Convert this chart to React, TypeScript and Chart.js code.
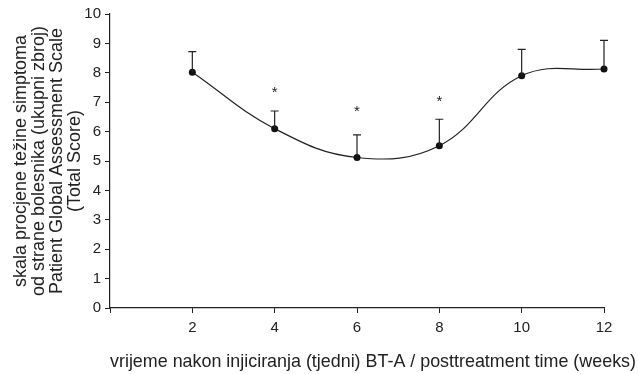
import React, { useEffect, useRef } from 'react';
import { Chart, registerables } from 'chart.js';

Chart.register(...registerables);

const weeks = [2, 4, 6, 8, 10, 12];
const scores = [8.02, 6.1, 5.12, 5.52, 7.9, 8.13];
const upperErrors = [8.72, 6.7, 5.89, 6.42, 8.8, 9.1];
const starWeeks = [4, 6, 8];
const starLevels = [7.44, 6.81, 7.15];
const xTickValues = [0, 2, 4, 6, 8, 10, 12];
const yTickValues = [0, 1, 2, 3, 4, 5, 6, 7, 8, 9, 10];
const yTitle = [
  'skala procjene težine simptoma',
  'od strane bolesnika (ukupni zbroj)',
  'Patient Global Assessment Scale',
  '(Total Score)',
];
const xTitle = 'vrijeme nakon injiciranja (tjedni) BT-A / posttreatment time (weeks)';

const FONT = "'Liberation Sans', Arial, Helvetica, sans-serif";
const INK = '#222';

const errorBarPlugin = {
  id: 'errorBars',
  afterDatasetsDraw(chart: any) {
    const { ctx, scales } = chart;
    const xs = scales.x;
    const ys = scales.y;
    ctx.save();
    ctx.strokeStyle = INK;
    ctx.lineWidth = 1.2;
    weeks.forEach((w, i) => {
      const px = xs.getPixelForValue(w);
      const py = ys.getPixelForValue(scores[i]);
      const pu = ys.getPixelForValue(upperErrors[i]);
      ctx.beginPath();
      ctx.moveTo(px, py);
      ctx.lineTo(px, pu);
      ctx.moveTo(px - 4, pu);
      ctx.lineTo(px + 4, pu);
      ctx.stroke();
    });
    ctx.fillStyle = INK;
    ctx.font = `15px ${FONT}`;
    ctx.textAlign = 'center';
    ctx.textBaseline = 'alphabetic';
    starWeeks.forEach((w, i) => {
      const px = xs.getPixelForValue(w);
      const py = ys.getPixelForValue(starLevels[i]);
      ctx.fillText('*', px, py + 8);
    });
    ctx.restore();
  },
};

const xTitlePlugin = {
  id: 'xTitleFree',
  afterDraw(chart: any) {
    const { ctx, chartArea } = chart;
    ctx.save();
    ctx.fillStyle = INK;
    ctx.font = `17.9px ${FONT}`;
    ctx.textAlign = 'left';
    ctx.textBaseline = 'alphabetic';
    ctx.fillText(xTitle, chartArea.left, chart.height - 7);
    ctx.restore();
  },
};

export default function App() {
  const ref = useRef<HTMLCanvasElement | null>(null);
  useEffect(() => {
    if (!ref.current) return;
    const chart = new Chart(ref.current, {
      type: 'line',
      data: {
        datasets: [
          {
            data: weeks.map((w, i) => ({ x: w, y: scores[i] })),
            borderColor: INK,
            borderWidth: 1.2,
            backgroundColor: '#111',
            pointBackgroundColor: '#111',
            pointBorderWidth: 0,
            pointRadius: 3.5,
            tension: 0.4,
            fill: false,
            clip: false,
          },
        ],
      },
      options: {
        animation: false,
        responsive: true,
        maintainAspectRatio: false,
        layout: { padding: { top: 14, right: 34, bottom: 0, left: 0 } },
        plugins: { legend: { display: false }, tooltip: { enabled: false } },
        scales: {
          x: {
            type: 'linear',
            min: 0,
            max: 12,
            afterBuildTicks: (s: any) => {
              s.ticks = xTickValues.map((v) => ({ value: v }));
            },
            afterFit: (s: any) => {
              s.height = 66;
            },
            ticks: {
              color: INK,
              font: { family: FONT, size: 15 },
              padding: 6,
              maxRotation: 0,
              autoSkip: false,
              callback: (v: any) => (v === 0 ? '' : String(v)),
            },
            grid: { drawOnChartArea: false, drawTicks: true, tickLength: 5, color: INK, lineWidth: 1 },
            border: { display: true, color: INK, width: 1.2 },
            title: { display: false },
          },
          y: {
            type: 'linear',
            min: 0,
            max: 10,
            afterBuildTicks: (s: any) => {
              s.ticks = yTickValues.map((v) => ({ value: v }));
            },
            afterFit: (s: any) => {
              s.width = 110;
            },
            ticks: {
              color: INK,
              font: { family: FONT, size: 15 },
              padding: 4,
              autoSkip: false,
            },
            grid: { drawOnChartArea: false, drawTicks: true, tickLength: 5, color: INK, lineWidth: 1 },
            border: { display: true, color: INK, width: 1.2 },
            title: {
              display: true,
              text: yTitle,
              color: INK,
              font: { family: FONT, size: 18, lineHeight: 0.99 },
              padding: { top: 12.5, bottom: 0 },
            },
          },
        },
      },
      plugins: [errorBarPlugin, xTitlePlugin],
    } as any);
    return () => chart.destroy();
  }, []);
  return (
    <div style={{ position: 'fixed', left: 0, top: 0, width: 638, height: 374, background: '#fff' }}>
      <canvas ref={ref} />
    </div>
  );
}
